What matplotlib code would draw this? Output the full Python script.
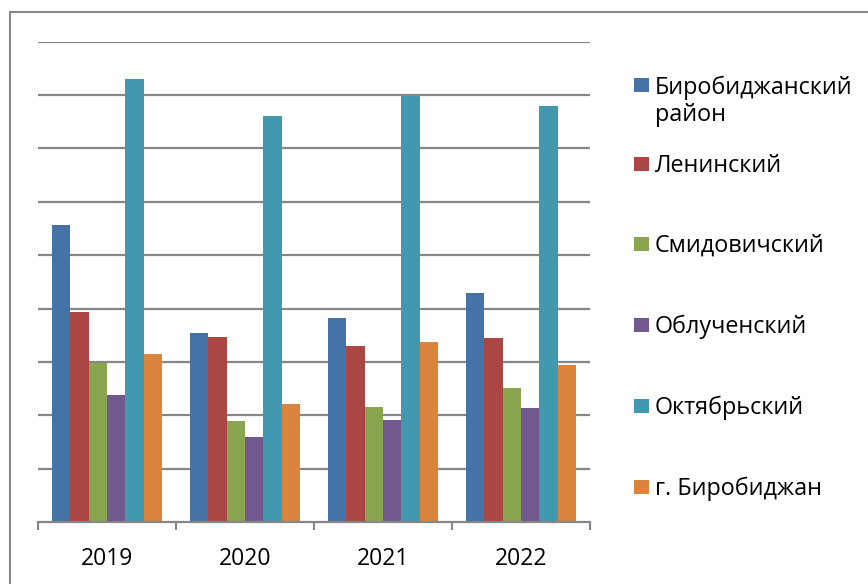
import matplotlib
matplotlib.use("Agg")
import matplotlib.pyplot as plt
from matplotlib.patches import Rectangle
import numpy as np

plt.rcParams['font.family'] = ['Open Sans', 'DejaVu Sans']

years = ['2019', '2020', '2021', '2022']
series_names = ['Биробиджанский\nрайон', 'Ленинский', 'Смидовичский',
                'Облученский', 'Октябрьский', 'г. Биробиджан']
birobidzhansky = [5.56, 3.55, 3.82, 4.30]
leninsky = [3.93, 3.47, 3.30, 3.45]
smidovichsky = [2.99, 1.89, 2.16, 2.51]
obluchensky = [2.38, 1.59, 1.91, 2.14]
oktyabrsky = [8.31, 7.60, 7.99, 7.79]
g_birobidzhan = [3.15, 2.21, 3.37, 2.94]

series = [birobidzhansky, leninsky, smidovichsky, obluchensky, oktyabrsky, g_birobidzhan]
colors = ['#4572A7', '#AA4643', '#89A54E', '#71588F', '#4198AF', '#DB843D']

W, H = 868, 584
fig = plt.figure(figsize=(W / 100, H / 100), dpi=100)
ax = fig.add_axes([38 / W, (H - 522.3) / H, (590 - 38) / W, (522.3 - 41.7) / H])

n = len(series)
bw = 1 / (n + 1.5)
x = np.arange(len(years))
for i, (vals, c) in enumerate(zip(series, colors)):
    ax.bar(x - n * bw / 2 + (i + 0.5) * bw, vals, width=bw, color=c,
           edgecolor='none', zorder=3)

ax.set_xlim(-0.5, len(years) - 0.5)
ax.set_ylim(0, 9)
ax.set_yticks(np.arange(1, 10))
ax.yaxis.grid(True, color='#868686', linewidth=1.6, zorder=0)
ax.tick_params(axis='y', left=False, labelleft=False)
for s in ['left', 'right', 'top']:
    ax.spines[s].set_visible(False)
ax.spines['bottom'].set_color('#868686')
ax.spines['bottom'].set_linewidth(1.6)
ax.spines['bottom'].set_zorder(4)

ax.set_xticks(np.arange(-0.5, len(years)), minor=False)
ax.set_xticklabels([])
ax.tick_params(axis='x', which='major', direction='out', length=6, width=1.5, color='#868686')
ax.set_xticks(x, minor=True)
ax.set_xticklabels(years, minor=True, fontsize=16.5, color='black')
ax.tick_params(axis='x', which='minor', length=0, pad=18)

# outer chart border
fig.patches.append(Rectangle((10 / W, -0.2), 2, (H - 12.3) / H + 0.2,
                             transform=fig.transFigure, fill=False,
                             edgecolor='#888888', linewidth=1.5))

# legend
square_y = [84.5, 164, 244, 325, 406, 487]
baseline_y = [94, 172, 252, 333, 414, 495]
for name, c, yc, yb in zip(series_names, colors, square_y, baseline_y):
    fig.patches.append(Rectangle((634 / W, (H - yc - 7) / H), 15 / W, 14 / H,
                                 transform=fig.transFigure, facecolor=c,
                                 edgecolor='none'))
    for k, line in enumerate(name.split('\n')):
        fig.text(655 / W, (H - yb - 27 * k) / H, line, fontsize=16.8,
                 color='black', va='baseline', ha='left')

fig.savefig('out.png', dpi=100)
